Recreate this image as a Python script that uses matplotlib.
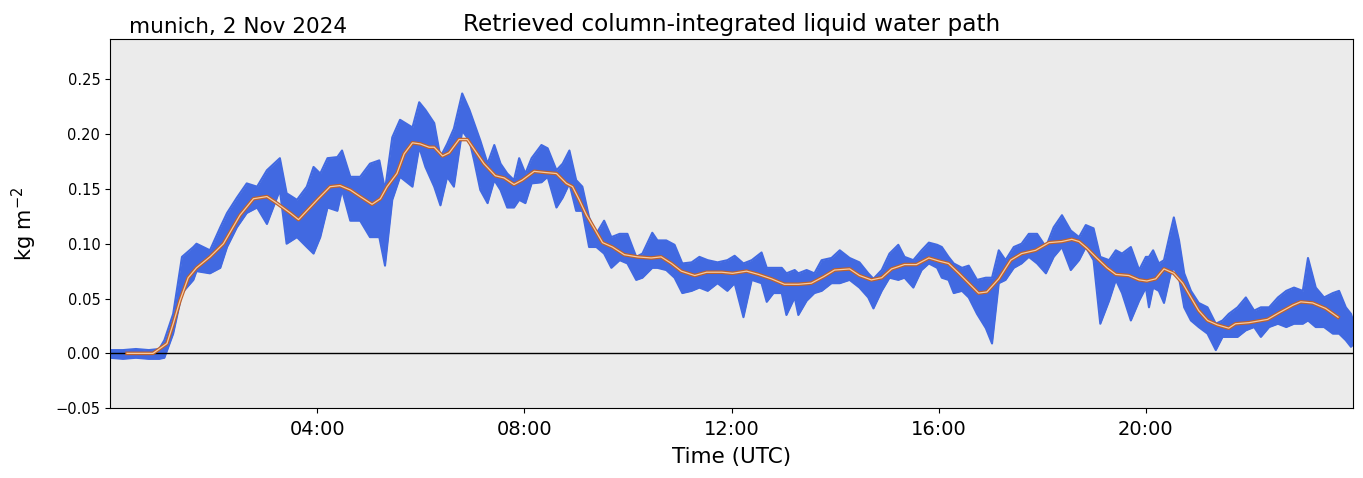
import matplotlib
matplotlib.use("Agg")
import matplotlib.pyplot as plt
import matplotlib.patheffects as pe
from matplotlib.ticker import FuncFormatter

# envelope of the retrieved LWP (hours UTC, kg m-2)
band_t = [0.00, 0.25, 0.50, 0.75, 0.95, 1.05, 1.22, 1.39, 1.61, 1.67, 1.93, 2.13, 2.26, 2.45, 2.64, 2.84,
          3.03, 3.28, 3.41, 3.61, 3.80, 3.93, 4.06, 4.20, 4.39, 4.48, 4.64, 4.83, 5.02, 5.20, 5.31, 5.45,
          5.60, 5.84, 5.97, 6.09, 6.26, 6.38, 6.51, 6.64, 6.80, 6.94, 7.03, 7.15, 7.29, 7.42, 7.54, 7.67,
          7.80, 7.90, 8.02, 8.14, 8.33, 8.45, 8.62, 8.74, 8.87, 9.00, 9.12, 9.25, 9.39, 9.54, 9.68, 9.84,
          9.99, 10.16, 10.28, 10.47, 10.57, 10.74, 10.90, 11.05, 11.23, 11.38, 11.54, 11.73, 11.92, 12.06,
          12.23, 12.39, 12.58, 12.68, 12.81, 12.97, 13.06, 13.22, 13.29, 13.45, 13.60, 13.74, 13.93, 14.09,
          14.28, 14.47, 14.64, 14.74, 14.90, 15.05, 15.22, 15.34, 15.51, 15.67, 15.81, 15.97, 16.06, 16.19,
          16.29, 16.45, 16.58, 16.74, 16.91, 17.03, 17.16, 17.29, 17.45, 17.60, 17.74, 17.90, 18.07, 18.22,
          18.38, 18.55, 18.71, 18.84, 18.99, 19.12, 19.29, 19.42, 19.54, 19.71, 19.87, 20.00, 20.06, 20.14,
          20.25, 20.35, 20.48, 20.54, 20.64, 20.74, 20.87, 21.02, 21.19, 21.35, 21.48, 21.60, 21.77, 21.93,
          22.09, 22.22, 22.38, 22.55, 22.71, 22.86, 23.03, 23.13, 23.28, 23.44, 23.61, 23.73, 23.86, 23.96,
          24.00]
band_lo = [-0.004, -0.005, -0.004, -0.005, -0.005, -0.004, 0.018, 0.055, 0.067, 0.075, 0.073, 0.078, 0.097,
           0.115, 0.128, 0.133, 0.118, 0.149, 0.100, 0.106, 0.097, 0.091, 0.106, 0.133, 0.130, 0.149, 0.121,
           0.121, 0.106, 0.106, 0.080, 0.140, 0.161, 0.152, 0.188, 0.170, 0.152, 0.135, 0.161, 0.152, 0.203,
           0.194, 0.176, 0.149, 0.137, 0.158, 0.149, 0.133, 0.133, 0.140, 0.137, 0.155, 0.156, 0.161, 0.133,
           0.142, 0.155, 0.130, 0.130, 0.097, 0.097, 0.091, 0.078, 0.085, 0.082, 0.067, 0.069, 0.078, 0.078,
           0.076, 0.069, 0.055, 0.057, 0.060, 0.057, 0.064, 0.057, 0.064, 0.033, 0.067, 0.064, 0.047, 0.055,
           0.055, 0.035, 0.051, 0.035, 0.048, 0.055, 0.057, 0.064, 0.064, 0.067, 0.060, 0.051, 0.041, 0.057,
           0.069, 0.067, 0.069, 0.060, 0.076, 0.082, 0.078, 0.069, 0.067, 0.055, 0.057, 0.051, 0.036, 0.023,
           0.009, 0.064, 0.067, 0.078, 0.082, 0.088, 0.082, 0.073, 0.088, 0.097, 0.076, 0.085, 0.097, 0.085,
           0.027, 0.048, 0.067, 0.055, 0.030, 0.048, 0.060, 0.042, 0.060, 0.057, 0.046, 0.073, 0.078, 0.069,
           0.042, 0.030, 0.024, 0.018, 0.003, 0.015, 0.015, 0.015, 0.021, 0.024, 0.015, 0.024, 0.027, 0.024,
           0.027, 0.027, 0.030, 0.024, 0.024, 0.018, 0.018, 0.012, 0.006, 0.008]
band_hi = [0.003, 0.003, 0.004, 0.003, 0.004, 0.012, 0.036, 0.088, 0.097, 0.100, 0.094, 0.115, 0.128, 0.142,
           0.155, 0.152, 0.167, 0.178, 0.146, 0.140, 0.152, 0.170, 0.164, 0.178, 0.179, 0.185, 0.161, 0.161,
           0.173, 0.176, 0.149, 0.197, 0.213, 0.206, 0.229, 0.222, 0.210, 0.179, 0.191, 0.205, 0.237, 0.222,
           0.210, 0.194, 0.173, 0.190, 0.173, 0.164, 0.158, 0.178, 0.164, 0.178, 0.190, 0.187, 0.167, 0.173,
           0.185, 0.158, 0.152, 0.124, 0.109, 0.121, 0.106, 0.109, 0.109, 0.088, 0.091, 0.110, 0.103, 0.103,
           0.099, 0.082, 0.083, 0.088, 0.085, 0.083, 0.085, 0.089, 0.082, 0.085, 0.092, 0.078, 0.078, 0.078,
           0.073, 0.076, 0.073, 0.076, 0.073, 0.085, 0.087, 0.094, 0.087, 0.083, 0.073, 0.068, 0.076, 0.091,
           0.099, 0.088, 0.085, 0.094, 0.101, 0.099, 0.097, 0.088, 0.082, 0.078, 0.080, 0.067, 0.069, 0.069,
           0.094, 0.085, 0.097, 0.100, 0.109, 0.109, 0.097, 0.115, 0.126, 0.112, 0.106, 0.117, 0.114, 0.088,
           0.085, 0.094, 0.091, 0.097, 0.076, 0.088, 0.088, 0.094, 0.082, 0.085, 0.112, 0.124, 0.103, 0.073,
           0.057, 0.046, 0.042, 0.027, 0.030, 0.036, 0.042, 0.051, 0.039, 0.042, 0.042, 0.051, 0.057, 0.060,
           0.057, 0.087, 0.060, 0.051, 0.055, 0.057, 0.042, 0.036, 0.030]

# running mean
line_t = [0.33, 0.83, 1.10, 1.22, 1.35, 1.51, 1.67, 1.93, 2.19, 2.51, 2.77, 3.03, 3.22, 3.48, 3.64, 3.86,
          4.02, 4.25, 4.44, 4.64, 4.83, 5.06, 5.22, 5.35, 5.54, 5.68, 5.84, 5.99, 6.16, 6.26, 6.42, 6.55,
          6.74, 6.90, 7.06, 7.22, 7.44, 7.61, 7.80, 7.96, 8.19, 8.39, 8.62, 8.81, 8.93, 9.06, 9.20, 9.35,
          9.51, 9.70, 9.93, 10.18, 10.45, 10.64, 10.84, 11.03, 11.29, 11.52, 11.81, 12.02, 12.29, 12.52,
          12.77, 13.02, 13.29, 13.54, 13.78, 13.99, 14.28, 14.47, 14.70, 14.90, 15.09, 15.34, 15.57, 15.81,
          16.02, 16.19, 16.39, 16.58, 16.77, 16.93, 17.16, 17.39, 17.60, 17.87, 18.13, 18.38, 18.57, 18.71,
          18.86, 19.05, 19.25, 19.42, 19.67, 19.87, 20.02, 20.19, 20.35, 20.54, 20.71, 20.87, 21.02, 21.19,
          21.38, 21.60, 21.73, 21.99, 22.35, 22.57, 22.84, 22.99, 23.22, 23.47, 23.71]
line_v = [0.000, 0.000, 0.009, 0.027, 0.048, 0.069, 0.078, 0.088, 0.100, 0.126, 0.141, 0.143, 0.137, 0.128,
          0.122, 0.133, 0.141, 0.152, 0.153, 0.149, 0.143, 0.136, 0.141, 0.152, 0.164, 0.182, 0.192, 0.191,
          0.188, 0.188, 0.180, 0.183, 0.195, 0.195, 0.184, 0.173, 0.162, 0.160, 0.154, 0.158, 0.166, 0.165,
          0.164, 0.155, 0.152, 0.140, 0.126, 0.114, 0.101, 0.097, 0.090, 0.088, 0.087, 0.088, 0.082, 0.075,
          0.071, 0.074, 0.074, 0.073, 0.075, 0.072, 0.068, 0.063, 0.063, 0.064, 0.070, 0.076, 0.077, 0.071,
          0.067, 0.069, 0.077, 0.081, 0.081, 0.087, 0.084, 0.082, 0.073, 0.064, 0.055, 0.056, 0.068, 0.085,
          0.091, 0.094, 0.101, 0.102, 0.104, 0.102, 0.096, 0.087, 0.078, 0.072, 0.071, 0.067, 0.066, 0.068,
          0.077, 0.073, 0.064, 0.051, 0.039, 0.030, 0.026, 0.023, 0.027, 0.028, 0.031, 0.037, 0.044, 0.047,
          0.046, 0.041, 0.033]

xticks = [4, 8, 12, 16, 20]

fig = plt.figure(figsize=(13.63, 4.78), dpi=100)
ax = fig.add_axes([0.0807, 0.146, 0.912, 0.772])
ax.set_facecolor("#ebebeb")

ax.fill_between(band_t, band_lo, band_hi, color="royalblue", lw=0)
ax.plot(band_t, band_lo, color="royalblue", lw=1.5)
ax.plot(band_t, band_hi, color="royalblue", lw=1.5)
ax.axhline(0, color="black", lw=1)

ax.plot(line_t, line_v, color="#f7caa0", lw=0.9,
        path_effects=[pe.Stroke(linewidth=2.6, foreground="#c0622a"), pe.Normal()])

ax.set_xlim(0, 24)
ax.set_ylim(-0.05, 0.2865)
ax.set_xticks(xticks)
ax.xaxis.set_major_formatter(FuncFormatter(lambda v, p: "%02d:00" % int(v)))
ax.tick_params(axis="x", labelsize=14, pad=5)
ax.tick_params(axis="y", labelsize=10.5)
ax.set_yticks([-0.05, 0.0, 0.05, 0.10, 0.15, 0.20, 0.25])
ax.set_xlabel("Time (UTC)", fontsize=15.5, labelpad=6)
ax.set_ylabel("kg m$^{-2}$", fontsize=15, labelpad=12)
ax.set_title("Retrieved column-integrated liquid water path", fontsize=16.7, pad=6)
ax.text(0.015, 1.005, "munich, 2 Nov 2024", transform=ax.transAxes, fontsize=15.5,
        ha="left", va="bottom")

fig.savefig("out.png", dpi=100)
